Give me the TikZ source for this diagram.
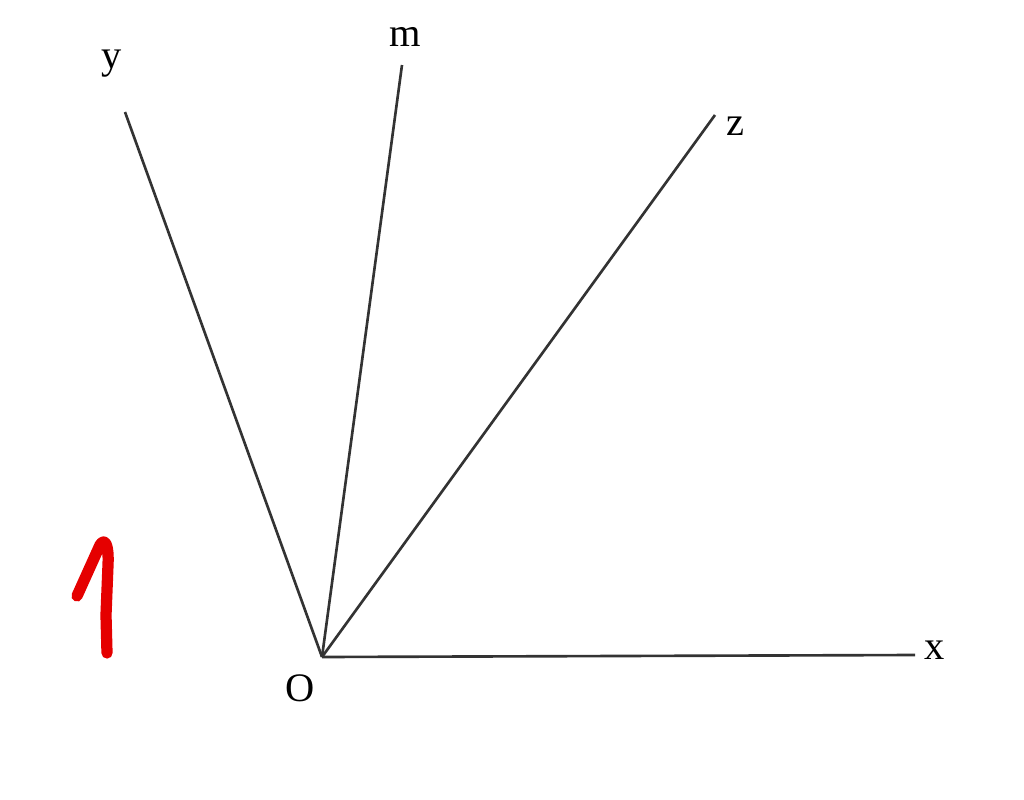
\documentclass[tikz,border=0pt]{standalone}
\usepackage{fontspec}
\setmainfont{Liberation Serif}
\begin{document}
\begin{tikzpicture}[x=0.01cm,y=-0.01cm,
    ray/.style={line width=0.75pt,black!80},
    lbl/.style={font=\fontsize{11.5}{14}\selectfont,inner sep=1pt}]
    \useasboundingbox[fill=white] (0,0) rectangle (1024,800);
    \coordinate (O) at (322,657);
    \coordinate (xe) at (915,655);
    \coordinate (ye) at (125,112);
    \coordinate (me) at (402,65);
    \coordinate (ze) at (715,115);
    \node[lbl] (o) at (300,688) {O};
    \node[lbl] (x) at (935,650) {x};
    \node[lbl] (y) at (112,64) {y};
    \node[lbl] (m) at (405,37) {m};
    \node[lbl] (z) at (735,126) {z};
    \draw[ray] (O) -- (xe);
    \draw[ray] (O) -- (ye);
    \draw[ray] (O) -- (me);
    \draw[ray] (O) -- (ze);
    % red mark
    \draw[red!90!black,line width=3.2pt,line cap=round,line join=round]
        (77,596) -- (100,545) .. controls (105,537) and (109,545) .. (108,565)
        -- (106,615) -- (107,653);
\end{tikzpicture}
\end{document}
